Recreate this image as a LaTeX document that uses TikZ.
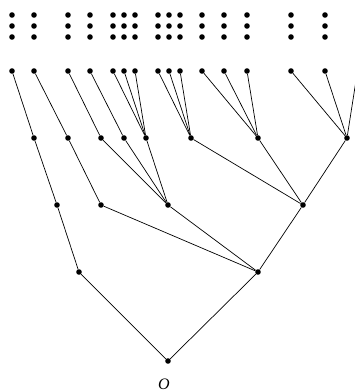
\documentclass[tikz,border=0pt]{standalone}
\usepackage{fontspec}
\setmainfont{Liberation Serif}
\begin{document}
\begin{tikzpicture}[x=1pt,y=-1pt,
  dot/.style={circle,fill=black,inner sep=0pt,minimum size=5.6pt},
  edge/.style={draw=black,line width=0.7pt}]
\useasboundingbox (0,0) rectangle (355,392);
% top dot columns
\foreach \x [count=\i] in {12,34,68,90,113,124,135,158,169,180,202,224,247,291,325}{
  \node[dot] (t\i a) at (\x,15) {};
  \node[dot] (t\i b) at (\x,26) {};
  \node[dot] (t\i c) at (\x,37) {};
  \node[dot] (l\i) at (\x,71) {};
}
\coordinate (l16) at (357.5,71);
% level 2
\foreach \x [count=\i] in {34,68,101,124,146,191,258,347}{
  \node[dot] (a\i) at (\x,138) {};
}
% level 3
\node[dot] (b1) at (57,205) {};
\node[dot] (b2) at (101,205) {};
\node[dot] (b3) at (168,205) {};
\node[dot] (b4) at (303,205) {};
% level 4
\node[dot] (d1) at (79,272) {};
\node[dot] (d2) at (258,272) {};
% root
\node[dot] (r) at (168,361) {};
\node[font=\fontsize{16}{16}\selectfont\itshape] (lab) at (164,384) {O};
% edges
\draw[edge] (l1) -- (a1);
\draw[edge] (l2) -- (a2);
\draw[edge] (l3) -- (a3);
\draw[edge] (l4) -- (a4);
\draw[edge] (l5) -- (a5);
\draw[edge] (l6) -- (a5);
\draw[edge] (l7) -- (a5);
\draw[edge] (l8) -- (a6);
\draw[edge] (l9) -- (a6);
\draw[edge] (l10) -- (a6);
\draw[edge] (l11) -- (a7);
\draw[edge] (l12) -- (a7);
\draw[edge] (l13) -- (a7);
\draw[edge] (l14) -- (a8);
\draw[edge] (l15) -- (a8);
\draw[edge] (l16) -- (a8);
\draw[edge] (a1) -- (b1);
\draw[edge] (a2) -- (b2);
\draw[edge] (a3) -- (b3);
\draw[edge] (a4) -- (b3);
\draw[edge] (a5) -- (b3);
\draw[edge] (a6) -- (b4);
\draw[edge] (a7) -- (b4);
\draw[edge] (a8) -- (b4);
\draw[edge] (b1) -- (d1);
\draw[edge] (b2) -- (d2);
\draw[edge] (b3) -- (d2);
\draw[edge] (b4) -- (d2);
\draw[edge] (d1) -- (r);
\draw[edge] (d2) -- (r);
\end{tikzpicture}
\end{document}
